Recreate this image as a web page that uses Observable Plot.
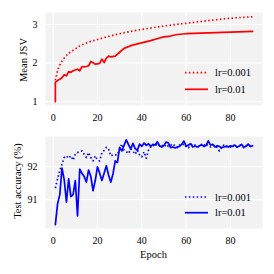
<!DOCTYPE html>
<html>
<head>
<meta charset="utf-8">
<script src="https://cdn.jsdelivr.net/npm/d3@7"></script>
<script src="https://cdn.jsdelivr.net/npm/@observablehq/plot@0.6"></script>
<style>
  html, body { margin: 0; padding: 0; background: #fff; }
  #chart { position: relative; width: 274px; height: 274px; font-family: "Liberation Serif", "Times New Roman", "DejaVu Serif", serif; color: #000; }
  #chart > svg, #chart > div { position: absolute; }
  #chart svg text { font-family: "Liberation Serif", "Times New Roman", "DejaVu Serif", serif; }
  .ylab { position: absolute; font-size: 10.5px; white-space: nowrap; transform: translate(-50%, -50%) rotate(-90deg); }
  .xlab { position: absolute; font-size: 10.5px; white-space: nowrap; transform: translate(-50%, -50%); }
</style>
</head>
<body>
<div id="chart"></div>
<script>
// ---- data ----
const seriesLabels = ["lr=0.001", "lr=0.01"];
const xTicks = [0, 20, 40, 60, 80];
const jsvTicks = [1, 2, 3];
const accTicks = [91, 92];

// Mean JSV, lr=0.001 (dotted)
const jsvEpochs001 = [1, 2, 3, 5, 7, 9, 12, 15, 20, 25, 30, 35, 40, 50, 60, 70, 80, 90];
const jsv001 = [1.55, 1.8, 1.95, 2.13, 2.25, 2.33, 2.44, 2.52, 2.61, 2.69, 2.76, 2.82, 2.87, 2.96, 3.03, 3.1, 3.16, 3.2];

// Mean JSV, lr=0.01 (solid)
const jsvEpochs01 = [1, 1, 2, 3, 4, 5, 6, 7, 8, 9, 10, 11, 12, 13, 14, 15, 16, 17, 18, 19, 20, 21, 22, 23, 24, 25, 26, 28, 30, 32, 35, 39, 44, 48, 50, 53, 56, 60, 70, 80, 90];
const jsv01 = [1.0, 1.5, 1.55, 1.58, 1.62, 1.7, 1.67, 1.78, 1.76, 1.8, 1.82, 1.84, 1.8, 1.91, 1.9, 1.91, 1.93, 2.04, 2.01, 1.97, 1.98, 1.99, 2.1, 2.01, 2.13, 2.18, 2.16, 2.18, 2.28, 2.38, 2.45, 2.51, 2.58, 2.65, 2.68, 2.7, 2.74, 2.76, 2.78, 2.8, 2.82];

// Test accuracy, epochs 1..90
const accEpochs = d3.range(1, 91);
const acc001 = [91.35, 91.63, 91.88, 92.08, 92.28, 92.33, 92.26, 92.33, 92.2, 92.38,
  92.43, 92.46, 92.48, 92.38, 92.28, 92.43, 92.28, 92.18, 92.33, 92.2,
  92.18, 92.43, 92.5, 92.59, 92.54, 92.33, 92.36, 92.36, 92.36, 92.54,
  92.69, 92.5, 92.46, 92.4, 92.54, 92.48, 92.38, 92.5, 92.36, 92.3,
  92.45, 92.26, 92.5, 92.6, 92.66, 92.62, 92.7, 92.63, 92.66, 92.6,
  92.68, 92.62, 92.65, 92.7, 92.63, 92.58, 92.66, 92.64, 92.7, 92.62,
  92.58, 92.65, 92.7, 92.66, 92.62, 92.6, 92.68, 92.64, 92.7, 92.62,
  92.6, 92.66, 92.64, 92.58, 92.48, 92.6, 92.66, 92.62, 92.64, 92.6,
  92.66, 92.62, 92.6, 92.66, 92.62, 92.58, 92.64, 92.6, 92.65, 92.62];
const acc01 = [90.24, 90.87, 91.15, 91.96, 91.6, 90.92, 91.63, 91.09, 91.15, 91.58,
  90.5, 91.93, 91.8, 91.7, 91.53, 91.9, 91.7, 91.27, 91.58, 92.0,
  91.8, 91.58, 91.8, 92.03, 91.75, 91.53, 91.78, 92.18, 92.13, 92.59,
  92.48, 92.65, 92.82, 92.67, 92.54, 92.71, 92.55, 92.5, 92.69, 92.62,
  92.72, 92.65, 92.7, 92.62, 92.68, 92.66, 92.76, 92.64, 92.6, 92.65,
  92.75, 92.72, 92.58, 92.6, 92.57, 92.6, 92.62, 92.68, 92.78, 92.62,
  92.66, 92.7, 92.6, 92.63, 92.6, 92.64, 92.67, 92.62, 92.65, 92.79,
  92.66, 92.68, 92.6, 92.64, 92.62, 92.58, 92.6, 92.62, 92.6, 92.64,
  92.62, 92.66, 92.6, 92.63, 92.68, 92.6, 92.62, 92.69, 92.62, 92.64];

const RED = "#ff0000", BLUE = "#0000ff", BG = "#f2f2f2";
const DOT = "1.5,2.4";
const LW = 1.7;
const FONT = "'Liberation Serif', 'Times New Roman', 'DejaVu Serif', serif";

const chart = document.getElementById("chart");

function panel({ top, yDomain, yTicks, lines, marginBottom }) {
  const svg = Plot.plot({
    width: 274, height: 124,
    marginTop: 12, marginBottom, marginLeft: 45, marginRight: 12,
    style: { fontFamily: FONT, fontSize: "10px", background: "transparent", color: "#000", overflow: "visible" },
    x: { domain: [-3.45, 94.45] },
    y: { domain: yDomain },
    marks: [
      Plot.frame({ fill: BG, stroke: "none" }),
      Plot.gridX(xTicks, { stroke: "white", strokeOpacity: 1, strokeWidth: 1.1 }),
      Plot.gridY(yTicks, { stroke: "white", strokeOpacity: 1, strokeWidth: 1.1 }),
      Plot.axisX(xTicks, { tickSize: 0, tickPadding: 8, label: null, fill: "#000" }),
      Plot.axisY(yTicks, { tickSize: 0, tickPadding: 8, label: null, fill: "#000" }),
      ...lines
    ]
  });
  svg.style.left = "0px";
  svg.style.top = top + "px";
  chart.appendChild(svg);
}

const rows = (xs, ys) => xs.map((x, i) => ({ x, y: ys[i] }));

panel({
  top: 0, yDomain: [0.9, 3.31], yTicks: jsvTicks, marginBottom: 19,
  lines: [
    Plot.line(rows(jsvEpochs001, jsv001), { x: "x", y: "y", stroke: RED, strokeWidth: LW, strokeDasharray: DOT, strokeLinecap: "butt", curve: "monotone-x" }),
    Plot.line(rows(jsvEpochs01, jsv01), { x: "x", y: "y", stroke: RED, strokeWidth: LW })
  ]
});

panel({
  top: 124, yDomain: [90.12, 92.92], yTicks: accTicks, marginBottom: 20,
  lines: [
    Plot.line(rows(accEpochs, acc001), { x: "x", y: "y", stroke: BLUE, strokeWidth: LW, strokeDasharray: DOT, strokeLinecap: "butt" }),
    Plot.line(rows(accEpochs, acc01), { x: "x", y: "y", stroke: BLUE, strokeWidth: LW })
  ]
});

// axis titles
function label(cls, text, x, y) {
  const d = document.createElement("div");
  d.className = cls; d.textContent = text;
  d.style.left = x + "px"; d.style.top = y + "px";
  chart.appendChild(d);
}
label("ylab", "Mean JSV", 23, 60);
label("ylab", "Test accuracy (%)", 17, 181);
label("xlab", "Epoch", 153.5, 254);

// legends
function legend(color, y1, y2) {
  const svg = d3.create("svg").attr("width", 274).attr("height", 274)
    .style("left", "0px").style("top", "0px").style("pointer-events", "none").style("overflow", "visible");
  [[y1, DOT, seriesLabels[0]], [y2, null, seriesLabels[1]]].forEach(([y, dash, t]) => {
    svg.append("line").attr("x1", 185).attr("x2", 208).attr("y1", y).attr("y2", y)
      .attr("stroke", color).attr("stroke-width", LW).attr("stroke-dasharray", dash).attr("stroke-linecap", "butt");
    svg.append("text").attr("x", 215).attr("y", y).attr("dy", "0.35em")
      .attr("font-family", FONT).attr("font-size", "10.5px").attr("fill", "#000").text(t);
  });
  chart.appendChild(svg.node());
}
legend(RED, 72.7, 89.3);
legend(BLUE, 197, 212.7);
</script>
</body>
</html>
